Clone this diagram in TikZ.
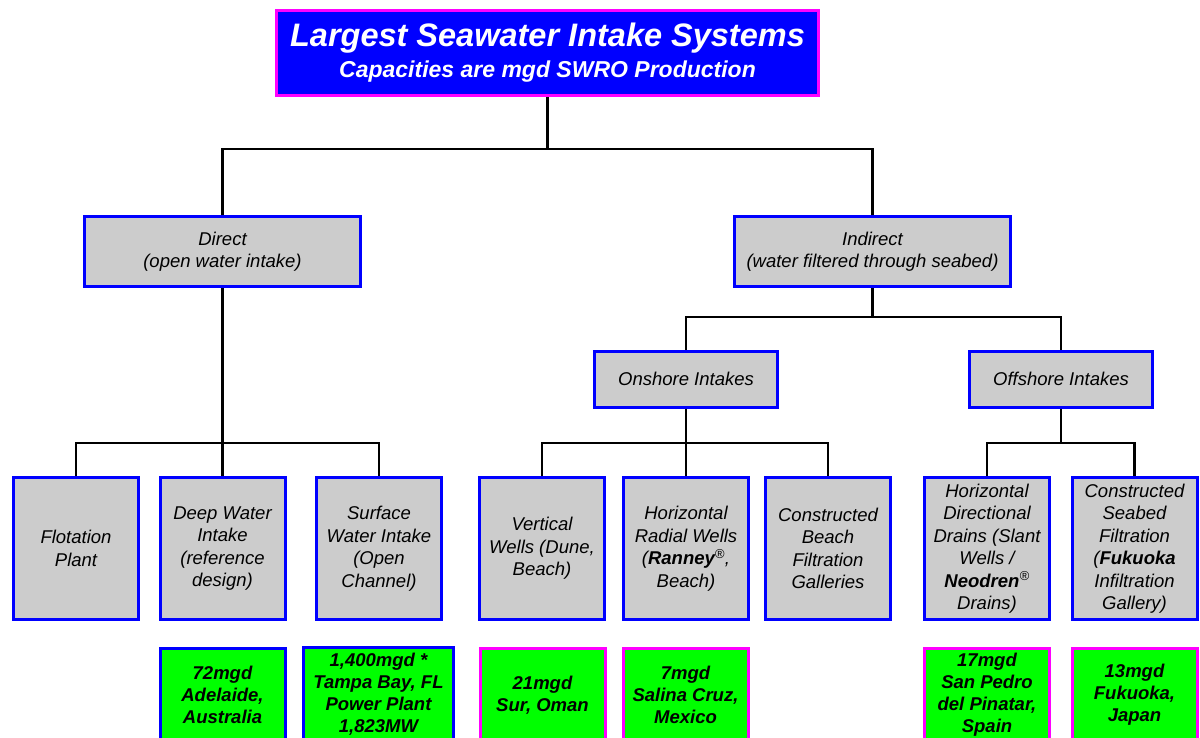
\documentclass[tikz,border=0pt]{standalone}
\usepackage{fontspec}
\setmainfont{Liberation Sans}
\definecolor{boxgray}{HTML}{CCCCCC}
\definecolor{boxgreen}{HTML}{00FF00}
\definecolor{boxblue}{HTML}{0000FF}
\definecolor{boxpink}{HTML}{FF00FF}
\begin{document}
\begin{tikzpicture}[x=1pt,y=-1pt,
  conn/.style={line width=2.5pt, black},
  cat/.style={draw=boxblue, fill=boxgray, line width=3pt, inner sep=0pt, align=center,
    text=black, font=\itshape\fontsize{18.5}{22.5}\selectfont},
  bottomcat/.style={cat, minimum width=125pt, minimum height=142pt},
  res/.style={fill=boxgreen, line width=3pt, inner sep=0pt, align=center,
    text=black, font=\bfseries\itshape\fontsize{18.5}{22}\selectfont,
    minimum width=125pt, minimum height=94pt},
  resblue/.style={res, draw=boxblue},
  respink/.style={res, draw=boxpink},
  titlebox/.style={draw=boxpink, fill=boxblue, line width=3pt, inner sep=0pt, align=center,
    text=white, font=\bfseries\itshape\fontsize{23}{31}\selectfont,
    minimum width=542pt, minimum height=85pt}
]
\clip (0,0) rectangle (1200,737);
\fill[white] (0,0) rectangle (1200,737);

% level coordinates
\coordinate (y1) at (0,149);
\coordinate (y2) at (0,317);
\coordinate (y3) at (0,443);

% title
\node[titlebox] (title) at (547.5,53)
  {{\fontsize{32.5}{31}\selectfont Largest Seawater Intake Systems}\\
   Capacities are mgd SWRO Production};

% second level
\node[cat, minimum width=276pt, minimum height=70pt] (direct) at (222.5,251.5)
  {Direct\\(open water intake)};
\node[cat, minimum width=276pt, minimum height=70pt] (indirect) at (872.5,251.5)
  {Indirect\\(water filtered through seabed)};

% third level
\node[cat, minimum width=183pt, minimum height=56pt] (onshore) at (686,379)
  {Onshore Intakes};
\node[cat, minimum width=183pt, minimum height=56pt] (offshore) at (1061,379)
  {Offshore Intakes};

% bottom categories
\node[bottomcat] (flot) at (76,548.5) {Flotation\\Plant};
\node[bottomcat] (deep) at (222.5,548.5) {Deep Water\\Intake\\(reference\\design)};
\node[bottomcat] (surf) at (379,548.5) {Surface\\Water Intake\\(Open\\Channel)};
\node[bottomcat] (vert) at (542,548.5) {Vertical\\Wells (Dune,\\Beach)};
\node[bottomcat] (horiz) at (686,548.5)
  {Horizontal\\Radial Wells\\(\textbf{Ranney}\textsuperscript{®},\\Beach)};
\node[bottomcat] (beach) at (828,548.5) {Constructed\\Beach\\Filtration\\Galleries};
\node[bottomcat] (hdd) at (987,548.5)
  {Horizontal\\Directional\\Drains (Slant\\Wells /\\\textbf{Neodren}\textsuperscript{®}\\Drains)};
\node[bottomcat] (seabed) at (1134.5,548.5)
  {Constructed\\Seabed\\Filtration\\(\textbf{Fukuoka}\\Infiltration\\Gallery)};

% results
\node[resblue] (r72) at (222.5,695) {72mgd\\Adelaide,\\Australia};
\node[resblue, minimum width=150pt, minimum height=95pt] (r1400) at (378.5,694.5)
  {1,400mgd *\\Tampa Bay, FL\\Power Plant\\1,823MW};
\node[respink] (r21) at (542.5,695) {21mgd\\Sur, Oman};
\node[respink] (r7) at (685.5,695) {7mgd\\Salina Cruz,\\Mexico};
\node[respink] (r17) at (987,695) {17mgd\\San Pedro\\del Pinatar,\\Spain};
\node[respink] (r13) at (1134.5,695) {13mgd\\Fukuoka,\\Japan};

% connectors
\draw[conn] (title.south) -- (title.south |- y1) coordinate (j0);
\draw[conn] (direct.north) |- (j0) -| (indirect.north);

\draw[conn] (direct.south) -- (direct.south |- y3) coordinate (j1);
\draw[conn] (flot.north) |- (j1) -| (surf.north);
\draw[conn] (j1) -- (deep.north);

\draw[conn] (indirect.south) -- (indirect.south |- y2) coordinate (j2);
\draw[conn] (onshore.north) |- (j2) -| (offshore.north);

\draw[conn] (onshore.south) -- (onshore.south |- y3) coordinate (j3);
\draw[conn] (vert.north) |- (j3) -| (beach.north);
\draw[conn] (j3) -- (horiz.north);

\draw[conn] (offshore.south) -- (offshore.south |- y3) coordinate (j4);
\draw[conn] (hdd.north) |- (j4) -| (seabed.north);
\end{tikzpicture}
\end{document}
